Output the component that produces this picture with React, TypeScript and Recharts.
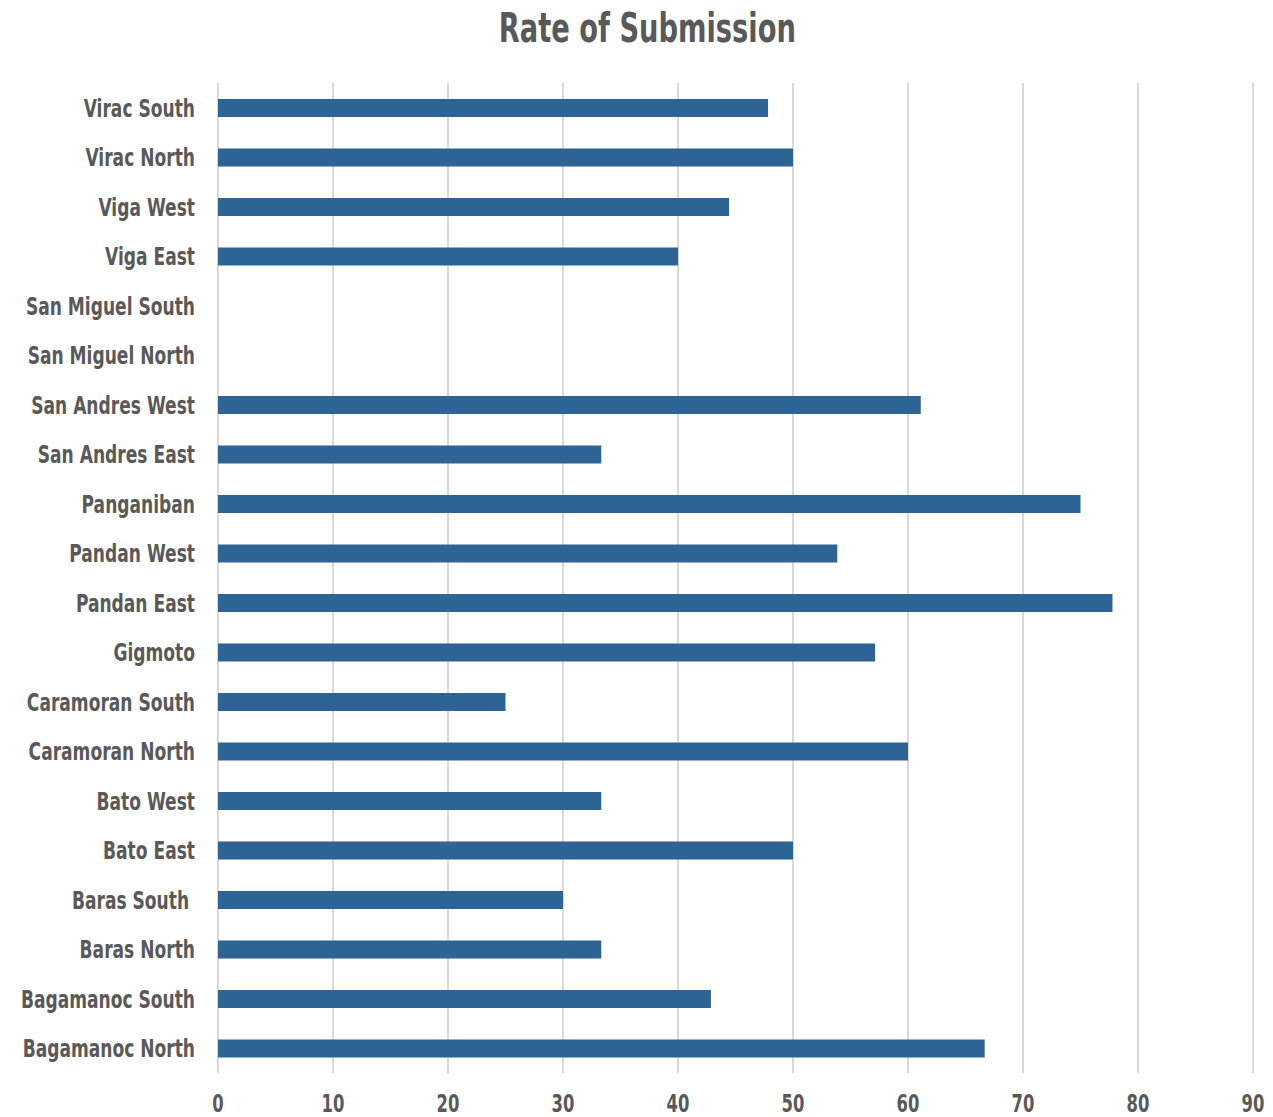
import React from "react";
import { BarChart, Bar, XAxis, YAxis, CartesianGrid } from "recharts";

const categories = [
  "Virac South",
  "Virac North",
  "Viga West",
  "Viga East",
  "San Miguel South",
  "San Miguel North",
  "San Andres West",
  "San Andres East",
  "Panganiban",
  "Pandan West",
  "Pandan East",
  "Gigmoto",
  "Caramoran South",
  "Caramoran North",
  "Bato West",
  "Bato East",
  "Baras South\u00A0",
  "Baras North",
  "Bagamanoc South",
  "Bagamanoc North",
];

const rates = [
  47.83, 50, 44.44, 40, 0, 0, 61.11, 33.33, 75, 53.85, 77.78, 57.14, 25, 60,
  33.33, 50, 30, 33.33, 42.86, 66.67,
];

const xTicks = [0, 10, 20, 30, 40, 50, 60, 70, 80, 90];

const data = categories.map((name, i) => ({ name, rate: rates[i] }));

const FONT = "'DejaVu Sans Condensed', 'Liberation Sans Narrow', sans-serif";
const TEXT = "#595959";
const SQUEEZE = 0.76;

function YTick(props: any) {
  const { x, y, payload } = props;
  return (
    <g transform={`translate(${x},${y})`}>
      <text
        transform={`scale(${SQUEEZE},1)`}
        textAnchor="end"
        dy="0.36em"
        fill={TEXT}
        fontSize={25}
        fontWeight="bold"
        fontFamily={FONT}
        style={{ whiteSpace: "pre" }}
      >
        {payload.value}
      </text>
    </g>
  );
}

function XTick(props: any) {
  const { x, y, payload } = props;
  return (
    <g transform={`translate(${x},${y})`}>
      <text
        transform={`scale(${SQUEEZE},1)`}
        textAnchor="middle"
        dy="0.73em"
        fill={TEXT}
        fontSize={24}
        fontWeight="bold"
        fontFamily={FONT}
      >
        {payload.value}
      </text>
    </g>
  );
}

export default function App() {
  return (
    <div style={{ position: "absolute", left: 0, top: 0, width: 1273, height: 1117, background: "#fff" }}>
      <div
        style={{
          position: "absolute",
          left: 0,
          top: 4,
          width: 1295,
          textAlign: "center",
          fontFamily: FONT,
          fontWeight: "bold",
          fontSize: 41,
          lineHeight: "48px",
          color: TEXT,
          transform: "scaleX(0.74)",
          transformOrigin: "647px 0",
        }}
      >
        Rate of Submission
      </div>
      <BarChart
        width={1273}
        height={1117}
        data={data}
        layout="vertical"
        margin={{ top: 83, right: 20, bottom: 0, left: 0 }}
        barCategoryGap={0}
      >
        <CartesianGrid horizontal={false} stroke="#d9d9d9" strokeWidth={2} />
        <XAxis
          type="number"
          domain={[0, 90]}
          ticks={xTicks}
          axisLine={false}
          tickLine={false}
          tickSize={0}
          tickMargin={21}
          height={44}
          interval={0}
          tick={<XTick />}
        />
        <YAxis
          type="category"
          dataKey="name"
          width={218}
          axisLine={false}
          tickLine={false}
          tickSize={0}
          tickMargin={23}
          interval={0}
          tick={<YTick />}
        />
        <Bar dataKey="rate" fill="#2E6395" barSize={18} isAnimationActive={false} />
      </BarChart>
    </div>
  );
}
